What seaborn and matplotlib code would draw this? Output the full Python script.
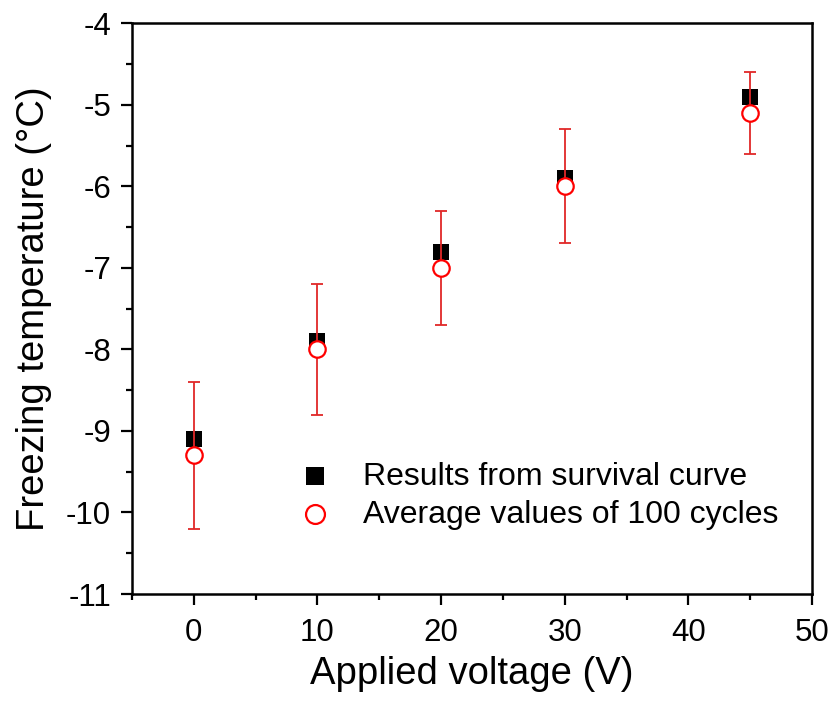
import matplotlib
matplotlib.use("Agg")
import matplotlib.pyplot as plt
import seaborn as sns
import pandas as pd
from matplotlib.ticker import MultipleLocator

voltage = [0, 10, 20, 30, 45]
survival = [-9.1, -7.9, -6.8, -5.9, -4.9]
average = [-9.3, -8.0, -7.0, -6.0, -5.1]
error = [0.9, 0.8, 0.7, 0.7, 0.5]

df = pd.DataFrame({"V": voltage, "surv": survival, "avg": average, "err": error})

sns.set_theme(style="white")
plt.rcParams['font.family'] = ['Liberation Sans', 'DejaVu Sans']
plt.rcParams['axes.unicode_minus'] = False

fig = plt.figure(figsize=(8.38, 7.06), dpi=100)
ax = fig.add_axes([0.1575, 0.1586, 0.8115, 0.8084])

sns.scatterplot(data=df, x="V", y="surv", marker="s", s=135, color="black",
                edgecolor="black", linewidth=0, ax=ax, zorder=3,
                label="Results from survival curve")
ax.errorbar(df["V"], df["avg"], yerr=df["err"], fmt="none", ecolor="#e02828",
            elinewidth=1.3, capsize=4.5, capthick=1.3, zorder=4)
sns.scatterplot(data=df, x="V", y="avg", marker="o", s=140, facecolor="white",
                edgecolor="#ff0000", linewidth=1.6, ax=ax, zorder=5,
                label="Average values of 100 cycles")

ax.set_xlim(-5, 50)
ax.set_ylim(-11, -4)
ax.xaxis.set_major_locator(MultipleLocator(10))
ax.xaxis.set_minor_locator(MultipleLocator(5))
ax.yaxis.set_major_locator(MultipleLocator(1))
ax.yaxis.set_minor_locator(MultipleLocator(0.5))
ax.tick_params(axis="both", which="major", direction="out", length=8, width=1.6,
               labelsize=22.5, color="black", labelcolor="black",
               bottom=True, left=True, top=False, right=False)
ax.tick_params(axis="y", which="major", pad=7)
ax.tick_params(axis="x", which="major", pad=9)
ax.tick_params(axis="both", which="minor", direction="out", length=4.5, width=1.6,
               color="black", bottom=True, left=True, top=False, right=False)
for sp in ax.spines.values():
    sp.set_linewidth(1.8)
    sp.set_color("black")

ax.set_xlabel("Applied voltage (V)", fontsize=27.5, color="black", labelpad=6)
ax.set_ylabel("Freezing temperature (°C)", fontsize=27.5, color="black", labelpad=10)

leg = ax.legend(loc="center left", bbox_to_anchor=(0.2456, 0.172), frameon=False,
                fontsize=23, handlelength=1.0, handletextpad=1.0, labelspacing=0.25,
                borderaxespad=0, borderpad=0, markerscale=1.15)
for t in leg.get_texts():
    t.set_color("black")

fig.savefig("out.png", dpi=100)
